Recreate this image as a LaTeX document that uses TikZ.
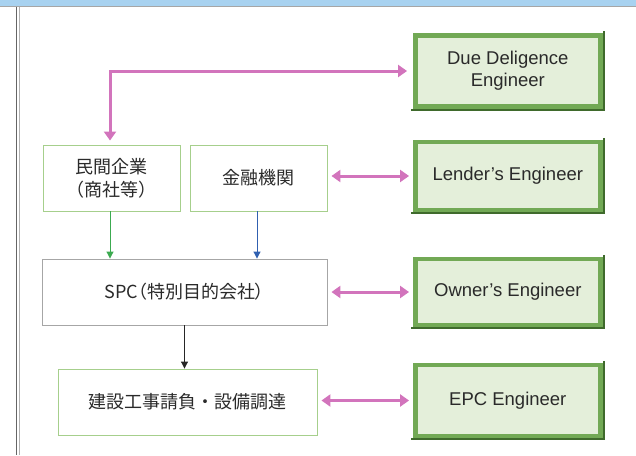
\documentclass[tikz,border=0pt]{standalone}
\usepackage{fontspec}
\setmainfont{Liberation Sans}
\newfontfamily\jp{Noto Sans CJK JP}
\newfontfamily\jpp[RawFeature=+palt]{Noto Sans CJK JP}
\usetikzlibrary{arrows.meta}
\definecolor{pinkc}{HTML}{D274BC}
\definecolor{engfill}{HTML}{E4EFDA}
\definecolor{engdraw}{HTML}{72A955}
\definecolor{engdark}{HTML}{3F6A2C}
\definecolor{lgreen}{HTML}{A6CF8C}
\definecolor{txt}{HTML}{2A2A2A}
\definecolor{topblue}{HTML}{A8D2F0}
\definecolor{arrgreen}{RGB}{60,170,80}
\definecolor{arrblue}{RGB}{48,96,176}
\begin{document}
\begin{tikzpicture}[x=1pt,y=-1pt,
  engbox/.style={draw=engdraw,line width=4.5pt,fill=engfill,minimum width=185pt,inner sep=0pt,align=center,font=\fontsize{18.5}{22}\selectfont,text=txt},
  jpbox/.style={draw=lgreen,line width=0.9pt,fill=white,inner sep=0pt,align=center,font=\jp\fontsize{18}{23}\selectfont,text=txt},
  pinkarr/.style={draw=pinkc,line width=3pt,{Triangle[width=12pt,length=9pt]}-{Triangle[width=12pt,length=9pt]}},
  thinarr/.style={line width=1pt,-{Triangle[width=7pt,length=7pt]}}]
\useasboundingbox (0,0) rectangle (636,455);
% window background
\fill[topblue] (0,0) rectangle (636,6);
\draw[gray!70,line width=0.8pt] (0,6.5) -- (636,6.5);
\draw[gray!80!black,line width=1pt] (16.5,6.5) -- (16.5,455);
\draw[gray!60,line width=1pt] (19.5,6.5) -- (19.5,455);
% engineer boxes
\node[engbox,minimum height=71pt] (dde) at (507.8,71) {Due Deligence\\Engineer};
\node[engbox,minimum height=68pt] (le) at (507.8,176) {Lender’s Engineer};
\node[engbox,minimum height=66pt] (oe) at (507.8,292) {Owner’s Engineer};
\node[engbox,minimum height=71pt] (epc) at (507.8,400.5) {EPC Engineer};
\foreach \n in {dde,le,oe,epc}{
  \draw[engdark,line width=2pt] ([xshift=1pt,yshift=2pt]\n.north east) -- ([xshift=1pt,yshift=-1pt]\n.south east) -- ([xshift=-2pt,yshift=-1pt]\n.south west);
}
% left boxes
\node[jpbox,minimum width=137pt,minimum height=66pt] (min) at (111.5,178) {民間企業\\（商社等）};
\node[jpbox,minimum width=137pt,minimum height=66pt] (kin) at (258.5,178) {金融機関};
\node[jpbox,draw=gray!70,minimum width=285pt,minimum height=66pt,font=\jpp\fontsize{18}{23}\selectfont] (spc) at (184.5,292) {SPC（特別目的会社）};
\node[jpbox,minimum width=259pt,minimum height=66pt] (ken) at (187.5,402) {建設工事請負・設備調達};
% arrows
\draw[pinkarr] ([xshift=-1.5pt,yshift=4pt]min.north) |- ([xshift=-6pt]dde.west);
\draw[pinkarr] ([xshift=4pt]kin.east |- le.west) -- ([xshift=-4pt]le.west);
\draw[pinkarr] ([xshift=4pt]spc.east |- oe.west) -- ([xshift=-4pt]oe.west);
\draw[pinkarr] ([xshift=4pt]ken.east |- epc.west) -- ([xshift=-4pt]epc.west);
\draw[thinarr,color=arrgreen] ([xshift=-1.5pt]min.south) -- ([xshift=-1.5pt]min.south |- spc.north);
\draw[thinarr,color=arrblue] ([xshift=-1.5pt]kin.south) -- ([xshift=-1.5pt]kin.south |- spc.north);
\draw[thinarr,color=black!85] (spc.south) -- (spc.south |- ken.north);
\end{tikzpicture}
\end{document}
